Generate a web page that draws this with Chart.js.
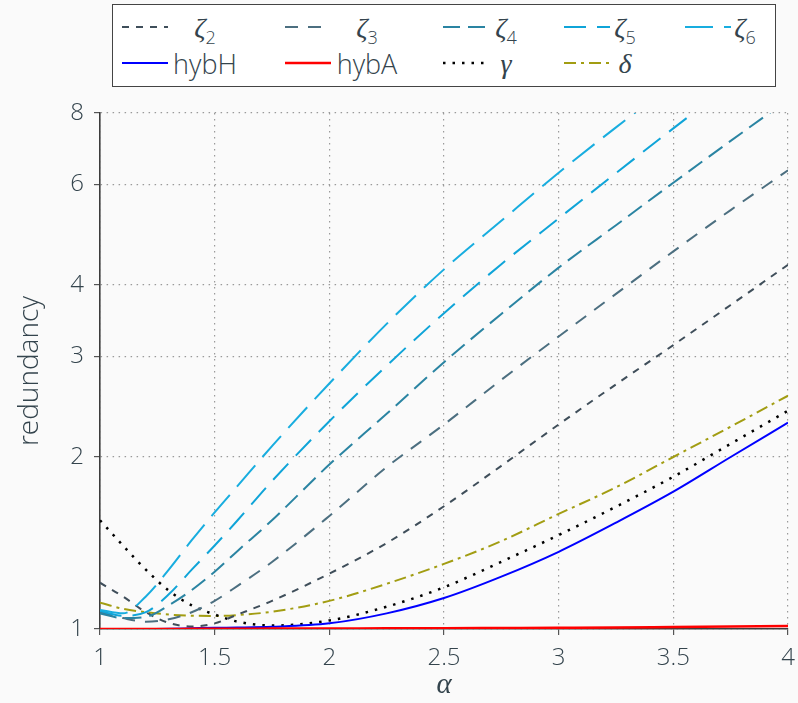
<!DOCTYPE html>
<html><head><meta charset="utf-8">
<script src="https://cdn.jsdelivr.net/npm/chart.js@4.4.1/dist/chart.umd.min.js"></script>
<style>
html,body{margin:0;padding:0;background:#fafafa;}
#wrap{position:relative;width:798px;height:703px;overflow:hidden;}
#c{position:absolute;left:0;top:0;}
#legend{position:absolute;left:112px;top:4px;width:664px;height:83px;border:1.3px solid #444;background:#fff;box-sizing:border-box;}
.sample{position:absolute;}
.lab{position:absolute;transform:translate(-50%,-50%);font-family:'Open Sans';font-weight:300;font-size:27px;color:#34444d;white-space:nowrap;line-height:1;}
.m{font-family:'Liberation Serif';font-style:italic;font-weight:400;font-size:28px;}
.sb{font-size:18px;position:relative;top:7px;}
</style></head>
<body>
<div id="wrap">
<canvas id="c" width="798" height="703"></canvas>
<div id="legend"></div>
</div>
<script>
// ---- data ----
const alpha = [1, 1.1, 1.2, 1.3, 1.4, 1.5, 1.6, 1.75, 2, 2.25, 2.5, 2.75, 3, 3.25, 3.5, 3.75, 4];
const zeta2 = [1.205, 1.14, 1.07, 1.025, 1.01, 1.023, 1.06, 1.12, 1.25, 1.414, 1.64, 1.93, 2.28, 2.68, 3.14, 3.69, 4.34];
const zeta3 = [1.07, 1.045, 1.03, 1.04, 1.07, 1.12, 1.19, 1.31, 1.577, 1.92, 2.28, 2.73, 3.25, 3.86, 4.58, 5.41, 6.35];
const zeta4 = [1.065, 1.045, 1.05, 1.10, 1.17, 1.26, 1.37, 1.55, 1.94, 2.38, 2.93, 3.56, 4.29, 5.09, 6.04, 7.15, 8.44];
const zeta5 = [1.075, 1.055, 1.07, 1.15, 1.27, 1.40, 1.55, 1.815, 2.31, 2.89, 3.57, 4.35, 5.23, 6.28, 7.52, 8.97, 10.67];
const zeta6 = [1.08, 1.065, 1.14, 1.27, 1.43, 1.60, 1.78, 2.09, 2.69, 3.42, 4.26, 5.18, 6.29, 7.55, 9.0, 10.7, 12.6];
const hybH  = [1.0, 1.0, 1.0, 1.001, 1.003, 1.005, 1.006, 1.009, 1.023, 1.065, 1.133, 1.235, 1.365, 1.535, 1.739, 2.0, 2.297];
const hybA  = [1.0, 1.0, 1.0, 1.0, 1.001, 1.001, 1.001, 1.002, 1.002, 1.003, 1.003, 1.004, 1.005, 1.006, 1.008, 1.01, 1.012];
const gamma = [1.55, 1.40, 1.27, 1.167, 1.10, 1.06, 1.03, 1.014, 1.035, 1.094, 1.183, 1.311, 1.46, 1.637, 1.847, 2.11, 2.41];
const delta = [1.112, 1.085, 1.07, 1.06, 1.055, 1.054, 1.058, 1.072, 1.12, 1.20, 1.30, 1.425, 1.59, 1.77, 2.0, 2.26, 2.56];
const yTicks = [1, 2, 3, 4, 6, 8];
const xTicks = [1, 1.5, 2, 2.5, 3, 3.5, 4];

const TXT = '#34444d';
const pts = arr => alpha.map((a, i) => ({x: a, y: arr[i]}));

const series = [
  {key:'z2', html:'<span class="m">ζ</span><span class="sb">2</span>', data:zeta2, color:'#3f4e5a', dash:[7,7], w:2, order:6},
  {key:'z3', html:'<span class="m">ζ</span><span class="sb">3</span>', data:zeta3, color:'#4c6f80', dash:[13,10], w:2, order:5},
  {key:'z4', html:'<span class="m">ζ</span><span class="sb">4</span>', data:zeta4, color:'#2a84a2', dash:[17,8], w:2, order:4},
  {key:'z5', html:'<span class="m">ζ</span><span class="sb">5</span>', data:zeta5, color:'#0fa4d8', dash:[22,11], w:2, order:3},
  {key:'z6', html:'<span class="m">ζ</span><span class="sb">6</span>', data:zeta6, color:'#18addf', dash:[28,11], w:2, order:2},
  {key:'hH', html:'hybH', data:hybH, color:'#0000ff', dash:[], w:2, order:1},
  {key:'hA', html:'hybA', data:hybA, color:'#ff0000', dash:[], w:2.5, order:0},
  {key:'g',  html:'<span class="m">γ</span>', data:gamma, color:'#000000', dash:[2.5,7], w:2.5, order:7},
  {key:'d',  html:'<span class="m">δ</span>', data:delta, color:'#a29d12', dash:[12,5,3,5], w:2, order:8}
];

const datasets = series.map(s => ({
  label: s.key,
  data: pts(s.data),
  borderColor: s.color,
  backgroundColor: s.color,
  borderDash: s.dash,
  borderWidth: s.w,
  pointRadius: 0,
  fill: false,
  cubicInterpolationMode: 'monotone',
  borderCapStyle: 'butt',
  order: s.order
}));

new Chart(document.getElementById('c'), {
  type: 'line',
  data: {datasets},
  options: {
    responsive: false,
    animation: false,
    devicePixelRatio: 1,
    layout: {padding: {top: 113, left: 0, right: 10, bottom: 0}},
    plugins: {legend: {display: false}, tooltip: {enabled: false}, title: {display: false}},
    scales: {
      x: {
        type: 'linear', min: 1, max: 4,
        afterFit: s => { s.height = 74; s.paddingLeft = 0; s.paddingRight = 0; },
        afterBuildTicks: s => { s.ticks = xTicks.map(v => ({value: v})); },
        ticks: {color: TXT, font: {family: 'Open Sans', size: 24, weight: 300}, padding: 9, maxRotation: 0,
                callback: v => String(v)},
        grid: {color: '#9a9a9a', lineWidth: 1.2, tickLength: 6, tickColor: '#555', tickWidth: 1.2},
        border: {display: true, color: '#3c3c3c', width: 1.6, dash: [1.5, 4.5]},
        title: {display: true, text: 'α', color: TXT, font: {family: 'Liberation Serif', style: 'italic', size: 29}, padding: {top: 0, bottom: 0}}
      },
      y: {
        type: 'logarithmic', min: 1, max: 8,
        afterFit: s => { s.width = 100; },
        afterBuildTicks: s => { s.ticks = yTicks.map(v => ({value: v})); },
        ticks: {color: TXT, font: {family: 'Open Sans', size: 24, weight: 300}, padding: 10, autoSkip: false,
                callback: v => String(v)},
        grid: {color: '#9a9a9a', lineWidth: 1.2, tickLength: 6, tickColor: '#555', tickWidth: 1.2},
        border: {display: true, color: '#3c3c3c', width: 1.6, dash: [1.5, 4.5]},
        title: {display: true, text: 'redundancy', color: TXT, font: {family: 'Open Sans', size: 28, weight: 300}, padding: {top: 13, bottom: 0}}
      }
    }
  }
});

// ---- HTML legend (line samples drawn with the dataset styles) ----
const wrap = document.getElementById('wrap');
const sampleX = [122, 285, 443, 564, 685];
const textX = [205, 367, 506, 625, 745];
const rowY = [27, 63];
series.forEach((s, i) => {
  const col = i % 5, row = Math.floor(i / 5);
  const cv = document.createElement('canvas');
  cv.width = 46; cv.height = 12; cv.className = 'sample';
  cv.style.left = sampleX[col] + 'px'; cv.style.top = (rowY[row] - 6) + 'px';
  const ctx = cv.getContext('2d');
  ctx.strokeStyle = s.color; ctx.lineWidth = s.w; ctx.setLineDash(s.dash); ctx.lineCap = 'butt';
  ctx.beginPath(); ctx.moveTo(0, 6); ctx.lineTo(46, 6); ctx.stroke();
  wrap.appendChild(cv);
  const lab = document.createElement('div');
  lab.className = 'lab'; lab.innerHTML = s.html;
  lab.style.left = textX[col] + 'px'; lab.style.top = rowY[row] + 'px';
  wrap.appendChild(lab);
});
</script>
</body></html>
